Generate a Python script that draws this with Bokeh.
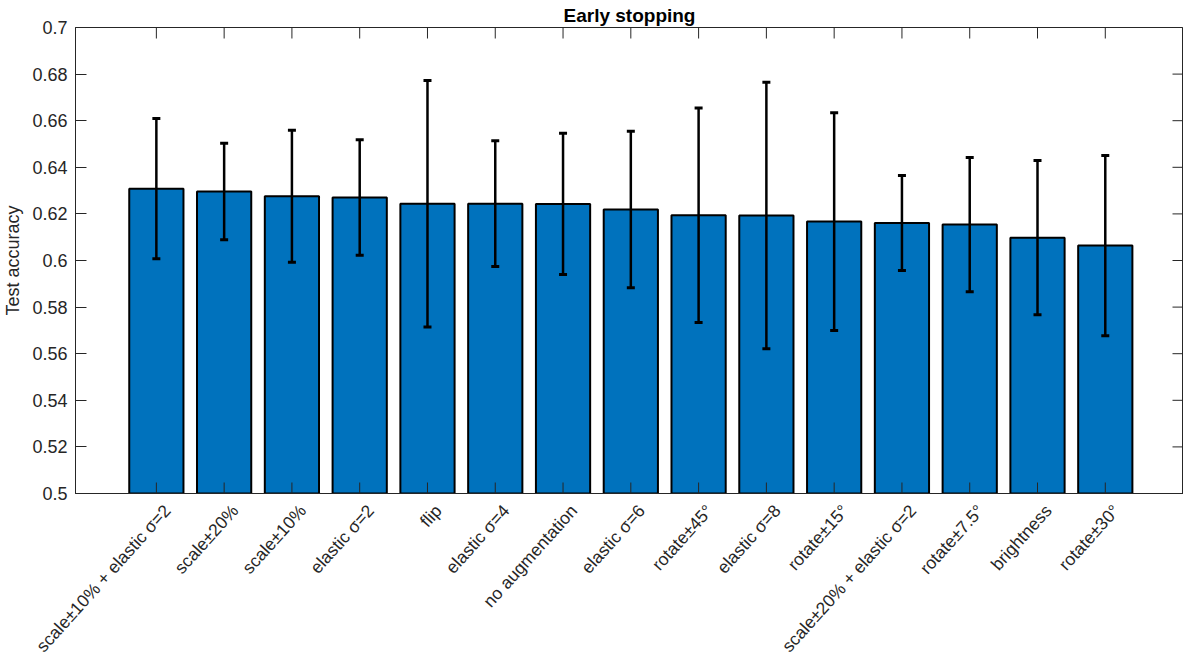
import math
from bokeh.plotting import figure
from bokeh.models import (Range1d, FixedTicker, LinearAxis, NumeralTickFormatter,
                          ColumnDataSource, Whisker, TeeHead)
from bokeh.embed import file_html
from bokeh.resources import INLINE

# ---- data ----
labels = [
    "scale\u00b110% + elastic \u03c3=2", "scale\u00b120%", "scale\u00b110%", "elastic \u03c3=2",
    "flip", "elastic \u03c3=4", "no augmentation", "elastic \u03c3=6", "rotate\u00b145\u00b0",
    "elastic \u03c3=8", "rotate\u00b115\u00b0", "scale\u00b120% + elastic \u03c3=2",
    "rotate\u00b17.5\u00b0", "brightness", "rotate\u00b130\u00b0",
]
accuracy = [0.6308, 0.6296, 0.6276, 0.6270, 0.6244, 0.6244, 0.6243, 0.6219,
            0.6194, 0.6193, 0.6167, 0.6161, 0.6154, 0.6098, 0.6064]
std_err = [0.0301, 0.0207, 0.0283, 0.0248, 0.0529, 0.0270, 0.0303, 0.0336,
           0.0460, 0.0572, 0.0467, 0.0204, 0.0288, 0.0331, 0.0387]
y_ticks = [0.5, 0.52, 0.54, 0.56, 0.58, 0.6, 0.62, 0.64, 0.66, 0.68, 0.7]

positions = list(range(1, len(labels) + 1))
X_START, X_END = -0.193, 16.154
LABEL_SHIFT = 0.16  # rotated labels end slightly right of their tick, as in the reference
n = len(positions)

src = ColumnDataSource(dict(
    x=positions,
    top=accuracy,
    upper=[a + e for a, e in zip(accuracy, std_err)],
    lower=[a - e for a, e in zip(accuracy, std_err)],
))

FONT = "Liberation Sans"
INK = "#262626"

p = figure(width=1183, height=665, output_backend="svg", toolbar_location=None,
           x_range=Range1d(X_START, X_END), y_range=Range1d(y_ticks[0], y_ticks[-1]),
           min_border_left=66, min_border_right=0, min_border_top=0, min_border_bottom=0,
           title="Early stopping", x_axis_type=None, y_axis_type=None)
p.title.align = "center"
p.title.text_font = FONT
p.title.text_font_size = "19px"
p.title.text_font_style = "bold"
p.title.text_color = "black"
p.title.standoff = 4
p.title.offset = 0
p.xgrid.visible = False
p.ygrid.visible = False
p.outline_line_color = INK
p.outline_line_width = 1
p.background_fill_color = "white"
p.border_fill_color = "white"

p.vbar(x="x", top="top", bottom=0, width=0.8, source=src,
       fill_color="#0072BD", line_color="black", line_width=2)

w = Whisker(source=src, base="x", upper="upper", lower="lower",
            line_color="black", line_width=2.5,
            upper_head=TeeHead(size=8, line_color="black", line_width=3),
            lower_head=TeeHead(size=8, line_color="black", line_width=3))
w.level = "annotation"
p.add_layout(w)

# inward tick marks on the bottom, top and right edges of the box
p.ray(x=positions, y=[y_ticks[0]] * n, length=11, length_units="screen",
      angle=math.pi / 2, line_color=INK, line_width=1)
p.ray(x=positions, y=[y_ticks[-1]] * n, length=11, length_units="screen",
      angle=-math.pi / 2, line_color=INK, line_width=1)
p.ray(x=[X_END] * len(y_ticks), y=y_ticks, length=11, length_units="screen",
      angle=math.pi, line_color=INK, line_width=1)

# bottom axis: rotated category labels
label_ticks = [pos + LABEL_SHIFT for pos in positions]
xb = LinearAxis(ticker=FixedTicker(ticks=label_ticks))
xb.major_label_overrides = {t: lab for t, lab in zip(label_ticks, labels)}
xb.major_label_orientation = math.radians(48)
xb.axis_line_color = INK
xb.axis_line_width = 1
xb.major_tick_line_color = None
xb.major_tick_in = 0
xb.major_tick_out = 0
xb.minor_tick_line_color = None
xb.minor_tick_out = 0
xb.major_label_text_font = FONT
xb.major_label_text_font_size = "17.5px"
xb.major_label_text_color = INK
xb.major_label_standoff = 14
p.add_layout(xb, "below")

# left axis
yl = LinearAxis(ticker=FixedTicker(ticks=y_ticks),
                formatter=NumeralTickFormatter(format="0.[00]"))
yl.axis_line_color = INK
yl.axis_line_width = 1
yl.major_tick_line_color = INK
yl.major_tick_in = 11
yl.major_tick_out = 0
yl.minor_tick_line_color = None
yl.major_label_text_font = FONT
yl.major_label_text_font_size = "18px"
yl.major_label_text_color = INK
yl.major_label_standoff = 8
yl.axis_label = "Test accuracy"
yl.axis_label_text_font = FONT
yl.axis_label_text_font_size = "18px"
yl.axis_label_text_font_style = "normal"
yl.axis_label_text_color = INK
yl.axis_label_standoff = 6
p.add_layout(yl, "left")

open("out.html", "w").write(file_html(p, INLINE))
